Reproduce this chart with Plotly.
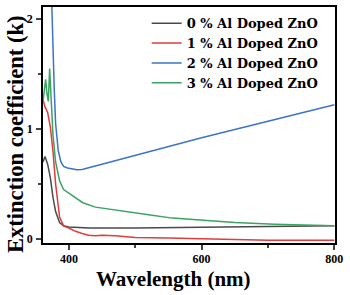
import plotly.graph_objects as go

wl_0 = [361, 364, 368, 372, 376, 380, 386, 392, 400, 410, 430, 500, 600, 700, 800]
k_0 = [0.70, 0.75, 0.68, 0.56, 0.38, 0.25, 0.15, 0.12, 0.11, 0.105, 0.10, 0.10, 0.105, 0.11, 0.12]

wl_1 = [361, 364, 368, 372, 376, 380, 386, 392, 400, 410, 420, 430, 440, 450, 470, 500, 550, 600, 650, 700, 750, 800]
k_1 = [1.27, 1.20, 1.15, 1.02, 0.80, 0.50, 0.20, 0.12, 0.10, 0.07, 0.05, 0.035, 0.03, 0.035, 0.03, 0.015, 0.01, 0.0, -0.005, -0.01, -0.01, -0.012]

wl_2 = [372, 374, 376, 378, 380, 384, 388, 392, 398, 405, 412, 420, 450, 500, 600, 700, 800]
k_2 = [2.6, 2.1, 1.7, 1.35, 1.05, 0.80, 0.70, 0.66, 0.645, 0.635, 0.63, 0.632, 0.68, 0.76, 0.92, 1.07, 1.22]

wl_3 = [361, 363, 365, 367, 369, 371, 372, 374, 376, 380, 386, 392, 399, 410, 421, 440, 472, 520, 556, 600, 650, 710, 760, 800]
k_3 = [1.25, 1.35, 1.45, 1.32, 1.25, 1.55, 1.45, 1.20, 0.95, 0.70, 0.53, 0.45, 0.42, 0.37, 0.33, 0.29, 0.26, 0.22, 0.19, 0.17, 0.15, 0.135, 0.125, 0.12]

names = ["0 % Al Doped ZnO", "1 % Al Doped ZnO", "2 % Al Doped ZnO", "3 % Al Doped ZnO"]
colors = ["#4a4a4a", "#e23b3b", "#3b73cc", "#3aa362"]
x_title = "Wavelength (nm)"
y_title = "Extinction coefficient (k)"

fig = go.Figure()
for wl, k, n, c in zip([wl_0, wl_1, wl_2, wl_3], [k_0, k_1, k_2, k_3], names, colors):
    fig.add_trace(go.Scatter(x=wl, y=k, mode="lines", name=n,
                             line=dict(color=c, width=1.5)))

font = "Liberation Serif, Times New Roman, serif"
fig.update_layout(
    width=350, height=295,
    margin=dict(l=43, r=15, t=5, b=52),
    plot_bgcolor="white", paper_bgcolor="white",
    font=dict(family=font, color="black"),
    showlegend=True,
    legend=dict(x=0.355, y=0.995, xanchor="left", yanchor="top",
                bgcolor="rgba(0,0,0,0)", itemwidth=30, tracegroupgap=0,
                font=dict(size=13, family="DejaVu Serif", weight="bold"),
                itemclick=False),
    xaxis=dict(range=[361, 801], tickvals=[400, 600, 800], ticks="outside",
               ticklen=5, tickwidth=1.5, linecolor="black", linewidth=1.5,
               mirror=True, showgrid=False, zeroline=False, ticklabelstandoff=-1,
               tickfont=dict(size=12, family=font, weight="bold"),
               minor=dict(tickvals=[500, 700], ticks="outside", ticklen=3, tickwidth=1.5)),
    yaxis=dict(range=[-0.036, 2.108], tickvals=[0, 1, 2], ticks="outside",
               ticklen=5, tickwidth=1.5, linecolor="black", linewidth=1.5,
               mirror=True, showgrid=False, zeroline=False, ticklabelstandoff=1,
               tickfont=dict(size=12, family=font, weight="bold"),
               minor=dict(tickvals=[0.5, 1.5], ticks="outside", ticklen=3, tickwidth=1.5)),
    annotations=[
        dict(text=x_title, xref="paper", yref="paper", x=0.447, y=-0.151,
             xanchor="center", yanchor="middle", showarrow=False,
             font=dict(size=21, family=font, weight="bold", color="black")),
        dict(text=y_title, xref="paper", yref="paper", x=-0.0925, y=0.462,
             xanchor="center", yanchor="middle", showarrow=False, textangle=-90,
             font=dict(size=22.5, family=font, weight="bold", color="black")),
    ],
)
fig.write_html("out.html", config={"displayModeBar": False},
               post_script="document.body.style.margin='0';")
